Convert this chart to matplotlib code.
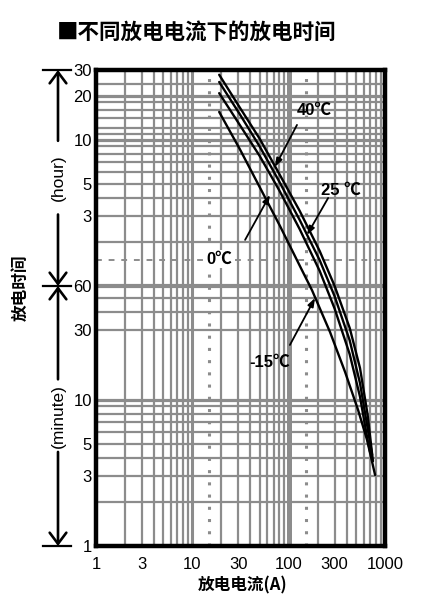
import matplotlib
matplotlib.use("Agg")
import matplotlib.pyplot as plt
import matplotlib.transforms as mtransforms

plt.rcParams["font.family"] = ["Liberation Sans", "Noto Sans CJK SC", "DejaVu Sans"]

TITLE = "■不同放电电流下的放电时间"
X_LABEL = "放电电流(A)"
Y_LABEL = "放电时间"

# discharge current (A) -> discharge time (minutes)
CURRENT_40C = [19, 31, 50, 80, 130, 210, 300, 430, 550, 660, 750]
TIME_40C = [1670, 1000, 610, 350, 196, 104, 60, 31, 16.5, 7.9, 3.8]
CURRENT_25C = [19, 31, 50, 80, 130, 210, 300, 430, 550, 660, 735]
TIME_25C = [1490, 900, 540, 310, 170, 90, 51, 25.5, 13, 6.4, 4.2]
CURRENT_0C = [19, 31, 50, 80, 130, 210, 300, 430, 550, 660, 700]
TIME_0C = [1250, 760, 465, 270, 147, 76, 42, 20.5, 10.5, 5.3, 4.4]
CURRENT_M15C = [19, 31, 50, 81, 131, 175, 269, 385, 526, 652, 789]
TIME_M15C = [930, 520, 285, 155, 82, 56, 29, 15.5, 8.5, 5.3, 3.06]

X_TICKS = [1, 3, 10, 30, 100, 300, 1000]
Y_TICKS_MIN = [1, 3, 5, 10, 30, 60]
Y_TICKS_HOUR = [3, 5, 10, 20, 30]

# grid layout of the printed chart paper
GRID_MIN = [2, 3, 4, 5, 6, 7, 8, 9, 10, 30, 40, 50, 60]
GRID_HOUR = [2, 3, 4, 5, 6, 7, 8, 9, 10, 11, 12, 14, 16, 18, 20, 24]
GRID_X = [k * 10 ** n for n in range(3) for k in range(2, 11)]
DOTTED_X = [15, 150]
DASHED_MIN = 90

GRID_COLOR = "#8c8c8c"

W, H = 430, 614
fig = plt.figure(figsize=(W / 100, H / 100), dpi=100)
ax = fig.add_axes([96 / W, 1 - 546 / H, (385 - 96) / W, (546 - 70) / H])
ax.set_xscale("log")
ax.set_yscale("log")
ax.set_xlim(1, 1000)
ax.set_ylim(1, 1800)

for x in GRID_X:
    lw = 3.6 if x == 100 else (2.2 if x == 10 else 1.6)
    ax.axvline(x, color=GRID_COLOR, lw=lw, zorder=1)

grid_y = GRID_MIN + [h * 60 for h in GRID_HOUR]
for y in grid_y:
    if y == 60:
        lw = 3.0
    elif y in (10, 600, 1200):
        lw = 2.3
    else:
        lw = 1.6
    ax.axhline(y, color=GRID_COLOR, lw=lw, zorder=1)

for x in DOTTED_X:
    ax.axvline(x, color=GRID_COLOR, lw=2.2, ls=(0, (1, 3)), zorder=1)
ax.axhline(DASHED_MIN, color=GRID_COLOR, lw=1.4, ls=(0, (3, 3.5)), zorder=1)

for cur, t in [(CURRENT_40C, TIME_40C), (CURRENT_25C, TIME_25C),
               (CURRENT_0C, TIME_0C), (CURRENT_M15C, TIME_M15C)]:
    ax.plot(cur, t, color="black", lw=1.7, zorder=3, solid_capstyle="round")

arrow_kw = dict(arrowstyle="-|>,head_length=0.5,head_width=0.18",
                color="black", lw=1.3, shrinkA=0, shrinkB=0)
text_kw = dict(fontsize=12, fontweight="bold", ha="center", va="center", zorder=5)

ax.annotate("", xy=(72, 391), xytext=(122, 758), arrowprops=arrow_kw, zorder=4)
ax.text(184, 960, "40℃", **text_kw)
ax.annotate("", xy=(155, 134), xytext=(257, 240), arrowprops=arrow_kw, zorder=4)
ax.text(350, 272, "25 ℃", **text_kw)
ax.annotate("", xy=(64, 252), xytext=(35.3, 124), arrowprops=arrow_kw, zorder=4)
ax.text(18.9, 92, "0℃", bbox=dict(facecolor="white", edgecolor="none", pad=1), **text_kw)
ax.annotate("", xy=(188, 49.7), xytext=(103, 23.7), arrowprops=arrow_kw, zorder=4)
ax.text(64, 17.9, "-15℃", **text_kw)

ax.set_xticks(X_TICKS)
ax.set_xticklabels([str(v) for v in X_TICKS])
ax.set_yticks(Y_TICKS_MIN + [h * 60 for h in Y_TICKS_HOUR])
ax.set_yticklabels([str(v) for v in Y_TICKS_MIN] + [str(v) for v in Y_TICKS_HOUR])
ax.minorticks_off()
ax.tick_params(axis="both", length=0, labelsize=12, colors="black")
ax.tick_params(axis="x", pad=8)
ax.tick_params(axis="y", pad=3)

for sp in ax.spines.values():
    sp.set_linewidth(3.2)
    sp.set_color("black")
    sp.set_zorder(6)

# hour / minute brackets left of the axis
trans = mtransforms.blended_transform_factory(fig.transFigure, ax.transData)
xa = 58 / W
bar = [43 / W, 71 / W]
for v in (1, 60, 1800):
    ax.plot(bar, [v, v], transform=trans, color="black", lw=1.6, clip_on=False)

head_kw = dict(arrowstyle="->,head_length=0.8,head_width=0.6",
               color="black", lw=1.9, shrinkA=0, shrinkB=0)
for tip, tail in [(1800, 590), (60, 185), (60, 13.8), (1, 4.4)]:
    ax.annotate("", xy=(xa, tip), xytext=(xa, tail), xycoords=trans,
                textcoords=trans, arrowprops=head_kw, annotation_clip=False)
ax.text(xa, 329, "(hour)", transform=trans, rotation=90, fontsize=12.5,
        ha="center", va="center")
ax.text(xa, 7.75, "(minute)", transform=trans, rotation=90, fontsize=12.5,
        ha="center", va="center")

cjk = ["Noto Sans CJK SC", "DejaVu Sans"]
fig.text(57 / W, 1 - 32 / H, TITLE, family=cjk, fontsize=15.5,
         fontweight="bold", ha="left", va="center")
fig.text(243 / W, 1 - 585 / H, X_LABEL, family=cjk, fontsize=12,
         fontweight="bold", ha="center", va="center")
fig.text(21 / W, 1 - 288 / H, Y_LABEL, family=cjk, fontsize=12,
         fontweight="bold", ha="center", va="center", rotation=90)

fig.savefig("out.png", dpi=100, facecolor="white")
